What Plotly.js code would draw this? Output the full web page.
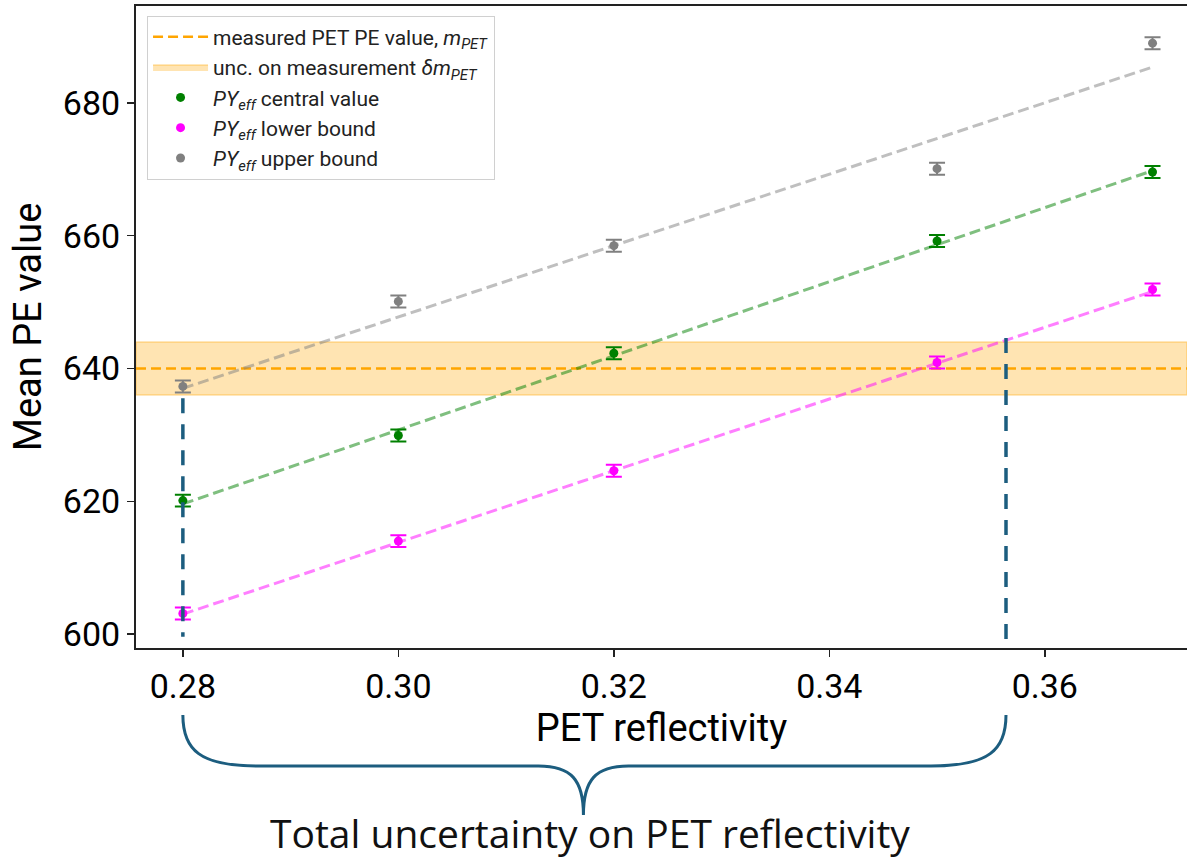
<!DOCTYPE html>
<html>
<head>
<meta charset="utf-8">
<script src="https://cdn.plot.ly/plotly-3.0.1.min.js"></script>
<style>html,body{margin:0;padding:0;background:#fff;}#chart{width:1187px;height:858px;}</style>
</head>
<body>
<div id="chart"></div>
<script>
// ---- data ----
const reflectivity = [0.28, 0.30, 0.32, 0.35, 0.37];
const peCentral = [620.1, 629.9, 642.3, 659.2, 669.6];
const peLower   = [603.1, 614.0, 624.6, 640.9, 651.9];
const peUpper   = [637.3, 650.1, 658.5, 670.1, 689.0];
const errCentral = [0.9, 0.9, 0.9, 0.9, 0.9];
const errLower   = [0.9, 0.9, 0.9, 0.9, 0.9];
const errUpper   = [0.9, 0.9, 0.9, 0.9, 0.9];
const fitX = [0.28, 0.37];
const fitCentral = [619.6, 669.8];
const fitLower   = [603.0, 651.6];
const fitUpper   = [637.0, 685.4];
const measuredPE = 640;
const measuredUnc = 4;
const boundX = [0.28, 0.3564];
const boundTop = [635.5, 644.6];
const boundBottom = [599.6, 597.9];
const xRange = [0.27565, 0.3732];
const yRange = [597.9, 694.6];

const tickFont = {family: 'Roboto, sans-serif', size: 34, color: '#000'};
const titleFont = {family: 'Roboto, sans-serif', size: 38, color: '#000'};
const blue = '#1c5d7f';

const traces = [];
traces.push({
  x: [xRange[0], xRange[1], xRange[1], xRange[0], xRange[0]],
  y: [measuredPE - measuredUnc, measuredPE - measuredUnc, measuredPE + measuredUnc, measuredPE + measuredUnc, measuredPE - measuredUnc],
  mode: 'lines', fill: 'toself', fillcolor: 'rgba(255,165,0,0.3)',
  line: {color: 'rgba(255,165,0,0.35)', width: 1.5},
  name: 'unc. on measurement <i>δm</i><sub><i>PET</i></sub>', legendrank: 2, hoverinfo: 'skip'
});
traces.push({
  x: [xRange[0], xRange[1]], y: [measuredPE, measuredPE], mode: 'lines',
  line: {color: '#ffa500', width: 2.5, dash: '10px,5px'},
  name: 'measured PET PE value, <i>m</i><sub><i>PET</i></sub>', legendrank: 1
});
const fits = [[fitUpper, 'rgba(128,128,128,0.5)'], [fitCentral, 'rgba(0,128,0,0.5)'], [fitLower, 'rgba(255,0,255,0.5)']];
fits.forEach(f => traces.push({x: fitX, y: f[0], mode: 'lines', line: {color: f[1], width: 3, dash: '11px,5px'}, showlegend: false, hoverinfo: 'skip'}));
const series = [
  [peCentral, errCentral, '#008000', '<i>PY</i><sub><i>eff</i></sub> central value', 3],
  [peLower, errLower, '#ff00ff', '<i>PY</i><sub><i>eff</i></sub> lower bound', 4],
  [peUpper, errUpper, '#808080', '<i>PY</i><sub><i>eff</i></sub> upper bound', 5]
];
series.forEach(s => traces.push({
  x: reflectivity, y: s[0], mode: 'markers', name: s[3], legendrank: s[4],
  marker: {color: s[2], size: 9},
  error_y: {type: 'data', array: s[1], visible: true, color: s[2], thickness: 2, width: 8}
}));

// bounds (vertical dashed lines)
const shapes = [];
for (let i = 0; i < boundX.length; i++) {
  shapes.push({type: 'line', xref: 'x', yref: 'y', x0: boundX[i], x1: boundX[i], y0: boundTop[i], y1: boundBottom[i],
    line: {color: blue, width: 3.5, dash: '15px,11px'}});
}

// brace below the axis, in paper coordinates
const ml = 136, mr = 0, mt = 6, mb = 210, W = 1187, H = 858;
const pw = W - ml - mr, ph = H - mt - mb;
const px = v => (v - xRange[0]) / (xRange[1] - xRange[0]);
const pyPx = p => (H - mb - p) / ph;  // pixel y -> paper y
const pxPx = p => (p - ml) / pw;       // pixel x -> paper x
const xa = px(boundX[0]), xb = px(boundX[1]);
const ax = xa * pw + ml, bx = xb * pw + ml;
const mx = (ax + bx) / 2 - 11;
const yTop = 715, yMid = 766, yTip = 815;
const P = (x, y) => pxPx(x).toFixed(5) + ',' + pyPx(y).toFixed(5);
const bracePath = 'M' + P(ax, yTop) +
  ' C' + P(ax, yTop + 35) + ' ' + P(ax + 17, yMid) + ' ' + P(ax + 75, yMid) +
  ' L' + P(mx - 45, yMid) +
  ' C' + P(mx - 12, yMid) + ' ' + P(mx, yMid + 14) + ' ' + P(mx, yTip) +
  ' C' + P(mx, yMid + 14) + ' ' + P(mx + 12, yMid) + ' ' + P(mx + 45, yMid) +
  ' L' + P(bx - 75, yMid) +
  ' C' + P(bx - 17, yMid) + ' ' + P(bx, yTop + 35) + ' ' + P(bx, yTop);
shapes.push({type: 'path', xref: 'paper', yref: 'paper', path: bracePath, line: {color: blue, width: 3}});

const layout = {
  width: W, height: H,
  margin: {l: ml, r: mr, t: mt, b: mb},
  paper_bgcolor: '#fff', plot_bgcolor: '#fff',
  showlegend: true,
  legend: {x: 0.0105, y: 0.985, xanchor: 'left', yanchor: 'top', bgcolor: 'rgba(255,255,255,0.8)',
    bordercolor: '#d0d0d0', borderwidth: 1, font: {family: 'Roboto, sans-serif', size: 21, color: '#222'},
    traceorder: 'normal', itemwidth: 55},
  xaxis: {range: xRange, tickvals: [0.28, 0.30, 0.32, 0.34, 0.36], ticktext: ['0.28', '0.30', '0.32', '0.34', '0.36'],
    showgrid: false, zeroline: false, showline: true, linecolor: '#222', linewidth: 2, mirror: true,
    ticks: 'outside', ticklen: 7, tickwidth: 1.5, tickcolor: '#222', tickfont: tickFont,
    title: {text: 'PET reflectivity', font: titleFont, standoff: 6}},
  yaxis: {range: yRange, tickvals: [600, 620, 640, 660, 680], showgrid: false, zeroline: false,
    showline: true, linecolor: '#222', linewidth: 2, ticks: 'outside', ticklen: 7, tickwidth: 1.5, tickcolor: '#222',
    tickfont: tickFont,
    title: {text: 'Mean PE value', font: titleFont, standoff: 10}},
  shapes: shapes,
  annotations: [{xref: 'paper', yref: 'paper', x: pxPx(mx + 7), y: pyPx(832), xanchor: 'center', yanchor: 'middle',
    text: 'Total uncertainty on PET reflectivity', showarrow: false,
    font: {family: '"Open Sans", sans-serif', size: 39, color: '#111'}}]
};
Plotly.newPlot('chart', traces, layout, {displayModeBar: false, staticPlot: true});
</script>
</body>
</html>
